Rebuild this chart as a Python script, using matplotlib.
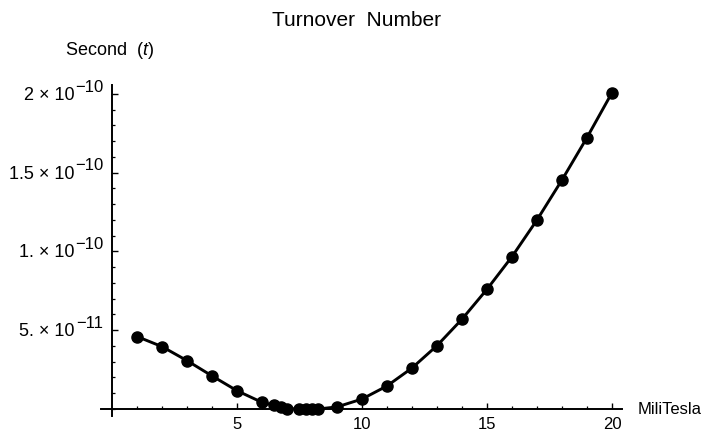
import numpy as np
import matplotlib
matplotlib.use("Agg")
import matplotlib.pyplot as plt
from matplotlib.ticker import MultipleLocator, FixedLocator, NullFormatter

plt.rcParams['font.family'] = ['Liberation Sans', 'DejaVu Sans']
plt.rcParams['mathtext.fontset'] = 'custom'
plt.rcParams['mathtext.rm'] = 'Liberation Sans'
plt.rcParams['mathtext.it'] = 'Liberation Sans:italic'

# field strength (mT) and turnover time (s)
field_mt = [1, 2, 3, 4, 5, 6, 6.5, 6.75, 7, 7.5, 7.75, 8, 8.25, 9, 10,
            11, 12, 13, 14, 15, 16, 17, 18, 19, 20]
turnover_s = [4.6e-11, 3.96e-11, 3.07e-11, 2.1e-11, 1.16e-11, 4.2e-12,
              2.3e-12, 1.1e-12, 0.2e-12, 0.0, 0.0, 0.0, 0.0, 1.3e-12, 6.3e-12,
              1.46e-11, 2.6e-11, 4.02e-11, 5.7e-11, 7.6e-11, 9.67e-11,
              1.2e-10, 1.454e-10, 1.723e-10, 2.008e-10]

ytick_vals = [5e-11, 1e-10, 1.5e-10, 2e-10]
ytick_mant = ['5.', '1.', '1.5', '2']
ytick_exp = ['\u221211', '\u221210', '\u221210', '\u221210']

fig = plt.figure(figsize=(7.04, 4.36), dpi=100)
ax = fig.add_axes([0.1431, 0.0461, 0.7404, 0.759])

ax.plot(field_mt, turnover_s, color='black', lw=2.1, marker='o', ms=8)

ax.set_xlim(-0.45, 20.4)
ax.set_ylim(-4.4e-12, 2.057e-10)

ax.spines['top'].set_visible(False)
ax.spines['right'].set_visible(False)
ax.spines['left'].set_position(('data', 0))
ax.spines['bottom'].set_position(('data', 0))
ax.spines['left'].set_linewidth(1.4)
ax.spines['bottom'].set_linewidth(1.4)

ax.xaxis.set_major_locator(FixedLocator([5, 10, 15, 20]))
ax.xaxis.set_minor_locator(FixedLocator([i for i in range(1, 21) if i % 5]))
ax.yaxis.set_major_locator(FixedLocator(ytick_vals))
ax.yaxis.set_minor_locator(MultipleLocator(1e-11))
ax.yaxis.set_major_formatter(NullFormatter())

ax.tick_params(axis='both', which='major', direction='in', length=4, width=1, labelsize=12)
ax.tick_params(axis='both', which='minor', direction='in', length=2.5, width=0.9)
ax.tick_params(axis='x', pad=6)

# y tick labels in "m x 10^e" form with a full-size exponent
for v, m, e in zip(ytick_vals, ytick_mant, ytick_exp):
    ax.annotate(m + ' \u00d7 10', xy=(0, v), xytext=(-27, -1), textcoords='offset points',
                ha='right', va='center', fontsize=13)
    ax.annotate(e, xy=(0, v), xytext=(-6, 5), textcoords='offset points',
                ha='right', va='center', fontsize=12)

fig.text(0.507, 0.954, 'Turnover  Number', ha='center', va='center', fontsize=15)
fig.text(0.156, 0.885, r'Second  ($t$)', ha='center', va='center', fontsize=13)
fig.text(0.906, 0.06, 'MiliTesla', ha='left', va='center', fontsize=12)

fig.savefig('out.png', dpi=100)
